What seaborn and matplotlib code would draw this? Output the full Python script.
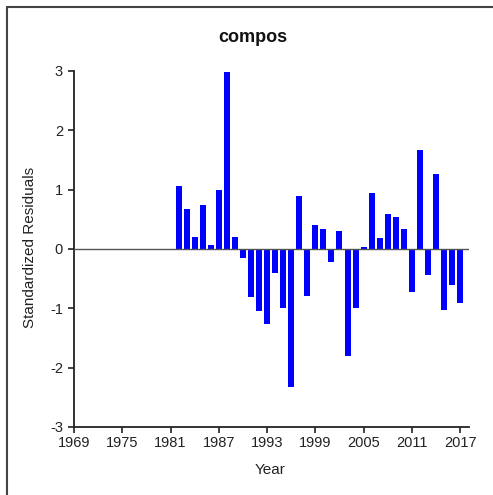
import numpy as np
import pandas as pd
import seaborn as sns
import matplotlib.pyplot as plt
from matplotlib.lines import Line2D

# Standardized residuals by year
years = list(range(1982, 2018))
residuals = [1.06, 0.67, 0.20, 0.75, 0.06, 0.99, 2.98, 0.20, -0.15, -0.81,
             -1.05, -1.26, -0.40, -0.99, -2.33, 0.90, -0.79, 0.40, 0.33, -0.22,
             0.30, -1.80, -0.99, 0.03, 0.94, 0.18, 0.59, 0.54, 0.33, -0.73,
             1.67, -0.43, 1.27, -1.02, -0.60, -0.91]
xticks = [1969, 1975, 1981, 1987, 1993, 1999, 2005, 2011, 2017]
yticks = [-3, -2, -1, 0, 1, 2, 3]

sns.set_style('ticks')
plt.rcParams['font.family'] = ['Liberation Sans', 'DejaVu Sans']
plt.rcParams['axes.unicode_minus'] = False

df = pd.DataFrame({'Year': years, 'Residual': residuals})

fig = plt.figure(figsize=(4.93, 4.95), dpi=100)
ax = fig.add_axes([74 / 493, 68 / 495, 395 / 493, 356 / 495])

sns.barplot(data=df, x='Year', y='Residual', native_scale=True, width=0.75,
            color='#0000FF', saturation=1, linewidth=0, ax=ax)
ax.axhline(0, color='#555555', lw=1.0, zorder=5)

ax.set_xlim(1969, 2018.1)
ax.set_ylim(-3, 3)
ax.set_xticks(xticks)
ax.set_yticks(yticks)
ax.tick_params(direction='out', length=4, width=1.2, labelsize=10.5,
               colors='#222222')
ax.tick_params(axis='y', pad=4)
ax.tick_params(axis='x', pad=2.5)
for s in ['top', 'right']:
    ax.spines[s].set_visible(False)
for s in ['left', 'bottom']:
    ax.spines[s].set_linewidth(1.3)
    ax.spines[s].set_color('#222222')

ax.set_xlabel('')
ax.set_ylabel('')
fig.text(270 / 493, 1 - 470 / 495, 'Year', ha='center', va='center',
         fontsize=11, color='#222222')
fig.text(30 / 493, 1 - 247 / 495, 'Standardized Residuals', ha='center',
         va='center', rotation=90, fontsize=11, color='#222222')
fig.text(253 / 493, 1 - 37 / 495, 'compos', ha='center', va='center',
         fontsize=13, fontweight='bold', color='#111111')

# partial frame around the figure (top and left edges)
fig.add_artist(Line2D([7 / 493, 1], [1 - 7 / 495, 1 - 7 / 495],
                      transform=fig.transFigure, color='#444444', lw=1.5))
fig.add_artist(Line2D([7 / 493, 7 / 493], [0, 1 - 7 / 495],
                      transform=fig.transFigure, color='#444444', lw=1.5))

fig.savefig('out.png', dpi=100)
